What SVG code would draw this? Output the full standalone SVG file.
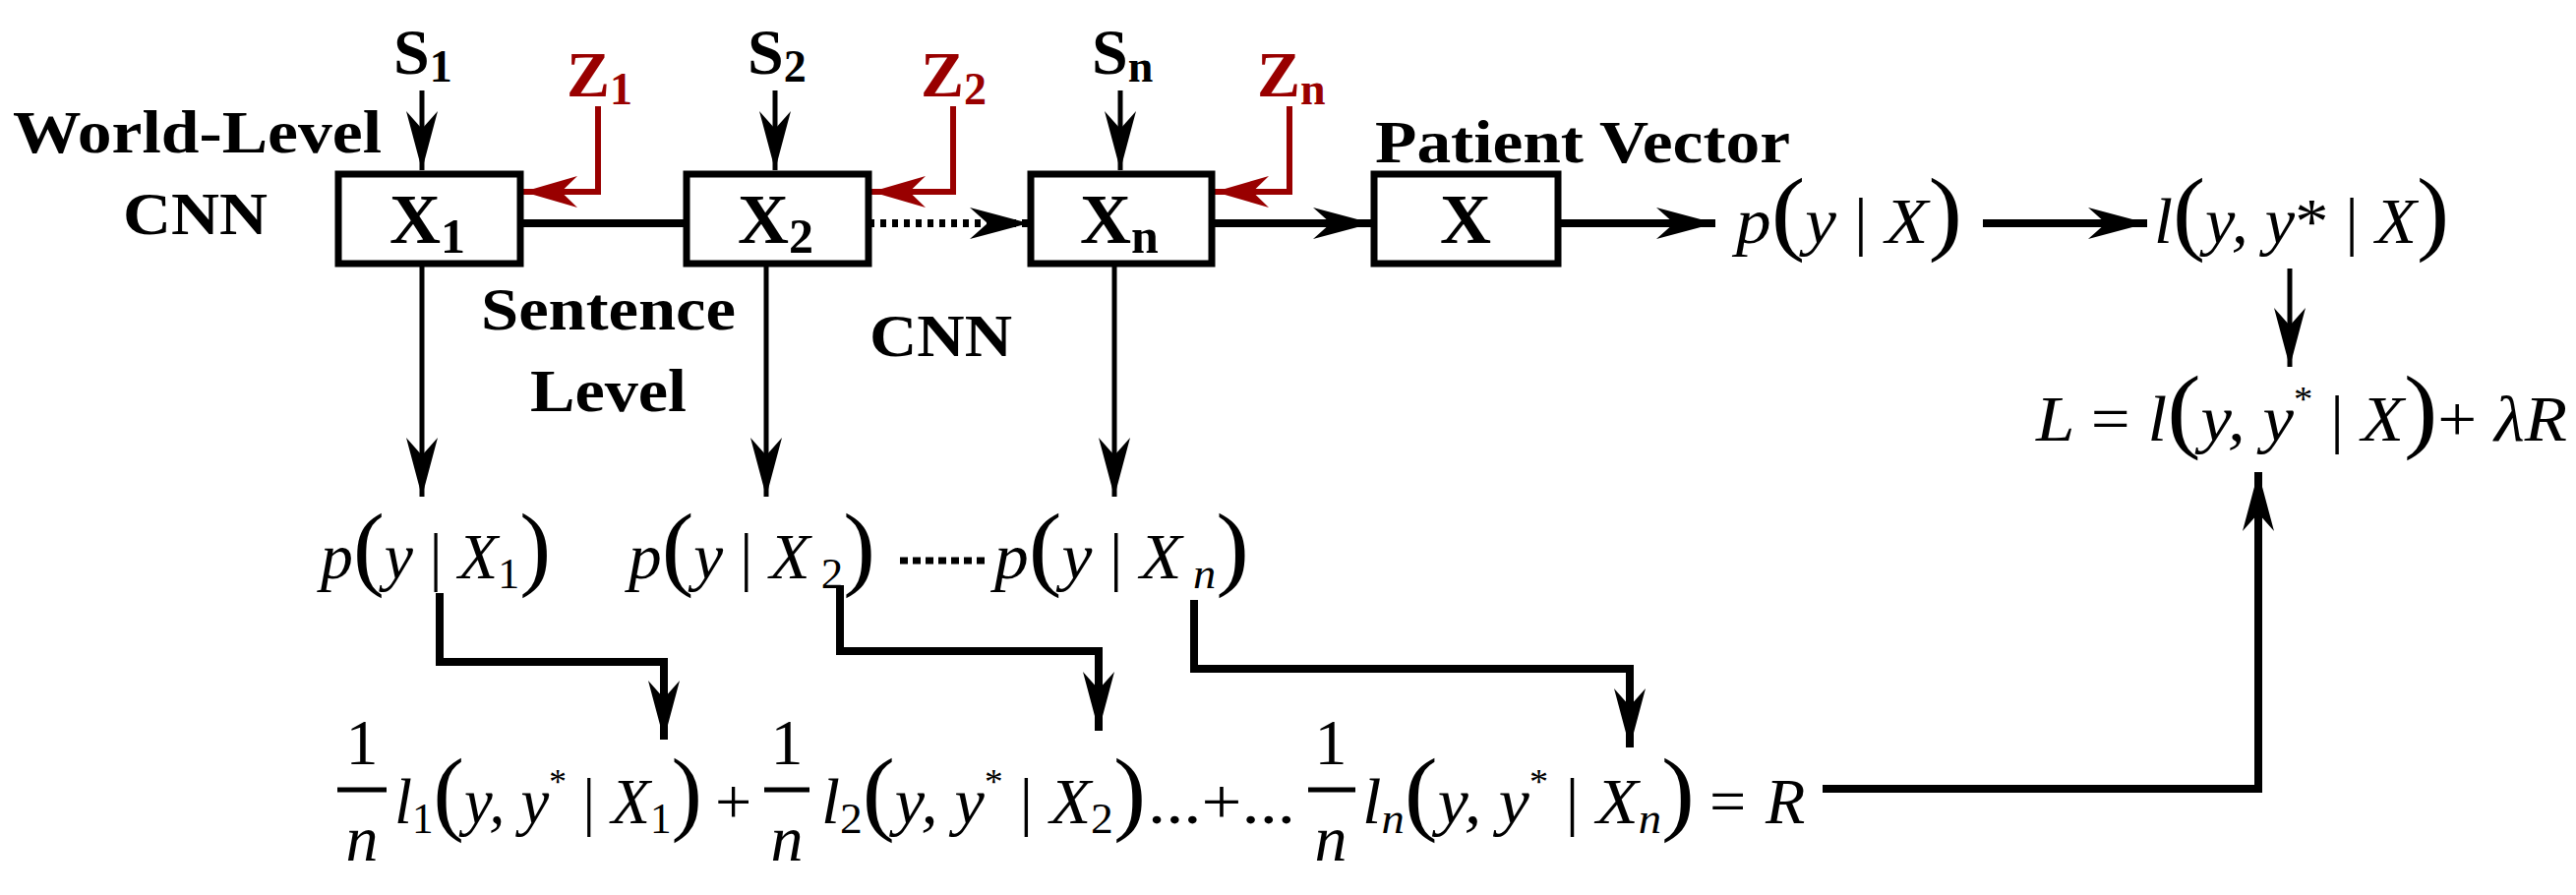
<svg xmlns="http://www.w3.org/2000/svg" width="2619" height="910" viewBox="0 0 2619 910">
<style>
.b{font-family:"Liberation Serif","Times New Roman",Tinos,serif;font-weight:bold;fill:#000}
.r{fill:#990000}
.m{font-family:"Liberation Serif","Times New Roman",Tinos,serif;font-style:italic;fill:#000}
.p{font-style:normal;font-size:96px}
.n{font-style:normal}
.box{fill:#fff;stroke:#000;stroke-width:7}
.ln{stroke:#000;fill:none;stroke-width:5}
.tk{stroke:#000;fill:none;stroke-width:8}
.rd{stroke:#990000;fill:none;stroke-width:6}
</style>
<defs>
<marker id="a" viewBox="0 0 10 10" refX="10" refY="5" markerWidth="60" markerHeight="32" preserveAspectRatio="none" markerUnits="userSpaceOnUse" orient="auto"><path d="M0,0L10,5L0,10L3,5z" fill="#000"/></marker>
<marker id="ar" viewBox="0 0 10 10" refX="10" refY="5" markerWidth="55" markerHeight="32" preserveAspectRatio="none" markerUnits="userSpaceOnUse" orient="auto"><path d="M0,0L10,5L0,10L3,5z" fill="#990000"/></marker>
</defs>
<g id="connectors">
<path class="ln" d="M429,92V173" marker-end="url(#a)"/>
<path class="ln" d="M788,92V173" marker-end="url(#a)"/>
<path class="ln" d="M1139,92V173" marker-end="url(#a)"/>
<path class="rd" d="M608,108V195H532" marker-end="url(#ar)"/>
<path class="rd" d="M969,108V195H886" marker-end="url(#ar)"/>
<path class="rd" d="M1311,108V195H1235" marker-end="url(#ar)"/>
<path class="tk" d="M529,227H698"/>
<path class="tk" d="M883,227H1046" stroke-dasharray="6,6" marker-end="url(#a)"/>
<path class="tk" d="M1232,227H1395" marker-end="url(#a)"/>
<path class="tk" d="M1584,227H1744" marker-end="url(#a)"/>
<path class="tk" d="M2016,227H2183" marker-end="url(#a)"/>
<path class="ln" d="M2328,273V373" marker-end="url(#a)"/>
<path class="ln" d="M429,271V505" marker-end="url(#a)"/>
<path class="ln" d="M779,271V505" marker-end="url(#a)"/>
<path class="ln" d="M1133,271V505" marker-end="url(#a)"/>
<path class="tk" d="M447,603V673H675V752" marker-end="url(#a)"/>
<path class="tk" d="M854,595V662H1117V743" marker-end="url(#a)"/>
<path class="tk" d="M1214,610V680H1657V760" marker-end="url(#a)"/>
<path class="tk" d="M1853,802H2296V480" marker-end="url(#a)"/>
</g>
<g id="labels" class="b">
<text x="13" y="155" font-size="62" textLength="375" lengthAdjust="spacingAndGlyphs">World-Level</text>
<text x="125" y="238" font-size="62" textLength="147" lengthAdjust="spacingAndGlyphs">CNN</text>
<text x="489" y="335" font-size="62" textLength="259" lengthAdjust="spacingAndGlyphs">Sentence</text>
<text x="539" y="418" font-size="62" textLength="159" lengthAdjust="spacingAndGlyphs">Level</text>
<text x="884" y="362" font-size="62" textLength="145" lengthAdjust="spacingAndGlyphs">CNN</text>
<text x="1398" y="165" font-size="62" textLength="422" lengthAdjust="spacingAndGlyphs">Patient Vector</text>
<text x="400" y="75" font-size="66">S<tspan font-size="46" dy="8">1</tspan></text>
<text x="760" y="75" font-size="66">S<tspan font-size="46" dy="8">2</tspan></text>
<text x="1110" y="75" font-size="66">S<tspan font-size="46" dy="8">n</tspan></text>
<text class="r" x="576" y="98" font-size="66">Z<tspan font-size="46" dy="8">1</tspan></text>
<text class="r" x="936" y="98" font-size="66">Z<tspan font-size="46" dy="8">2</tspan></text>
<text class="r" x="1278" y="98" font-size="66">Z<tspan font-size="46" dy="8">n</tspan></text>
</g>
<g id="X1"><rect class="box" x="344" y="177" width="185" height="91"/><text class="b" x="396" y="247" font-size="72">X<tspan font-size="50" dy="10">1</tspan></text></g>
<g id="X2"><rect class="box" x="698" y="177" width="185" height="91"/><text class="b" x="750" y="247" font-size="72">X<tspan font-size="50" dy="10">2</tspan></text></g>
<g id="Xn"><rect class="box" x="1048" y="177" width="184" height="91"/><text class="b" x="1098" y="247" font-size="72">X<tspan font-size="50" dy="10">n</tspan></text></g>
<g id="X"><rect class="box" x="1397" y="177" width="187" height="91"/><text class="b" x="1490" y="247" font-size="72" text-anchor="middle">X</text></g>
<g id="math" class="m" font-size="66">
<text x="1765" y="247" textLength="230" lengthAdjust="spacingAndGlyphs">p<tspan class="p">(</tspan>y <tspan class="n">|</tspan> X<tspan class="p">)</tspan></text>
<text x="2190" y="247" textLength="300" lengthAdjust="spacingAndGlyphs">l<tspan class="p">(</tspan>y, y<tspan class="n">*</tspan> <tspan class="n">|</tspan> X<tspan class="p">)</tspan></text>
<text x="2070" y="448" textLength="540" lengthAdjust="spacingAndGlyphs">L <tspan class="n">=</tspan> l<tspan class="p">(</tspan>y, y<tspan class="n" font-size="36" dy="-30">*</tspan><tspan dy="30"> </tspan><tspan class="n">|</tspan> X<tspan class="p">)</tspan><tspan class="n">+</tspan> λR</text>
<text x="326" y="588" textLength="234" lengthAdjust="spacingAndGlyphs">p<tspan class="p">(</tspan>y <tspan class="n">|</tspan> X<tspan class="n" font-size="44" dy="10">1</tspan><tspan class="p" dy="-10">)</tspan></text>
<text x="639" y="588" textLength="251" lengthAdjust="spacingAndGlyphs">p<tspan class="p">(</tspan>y <tspan class="n">|</tspan> X<tspan class="n" font-size="44" dy="10"> 2</tspan><tspan class="p" dy="-10">)</tspan></text>
<path d="M915,570H1005" stroke="#000" stroke-width="7" stroke-dasharray="8,5"/>
<text x="1011" y="588" textLength="259" lengthAdjust="spacingAndGlyphs">p<tspan class="p">(</tspan>y <tspan class="n">|</tspan> X<tspan font-size="44" dy="10"> n</tspan><tspan class="p" dy="-10">)</tspan></text>
<g class="n">
<text x="368" y="777" text-anchor="middle">1</text><text x="368" y="875" text-anchor="middle" class="m">n</text>
<text x="800" y="777" text-anchor="middle">1</text><text x="800" y="875" text-anchor="middle" class="m">n</text>
<text x="1353" y="777" text-anchor="middle">1</text><text x="1353" y="875" text-anchor="middle" class="m">n</text>
</g>
<path d="M343,803H393M777,803H823M1330,803H1378" stroke="#000" stroke-width="5"/>
<text x="401" y="837" textLength="313" lengthAdjust="spacingAndGlyphs">l<tspan class="n" font-size="44" dy="10">1</tspan><tspan class="p" dy="-10">(</tspan>y, y<tspan class="n" font-size="36" dy="-30">*</tspan><tspan dy="30"> </tspan><tspan class="n">|</tspan> X<tspan class="n" font-size="44" dy="10">1</tspan><tspan class="p" dy="-10">)</tspan></text>
<text x="727" y="837" class="n">+</text>
<text x="835" y="837" textLength="330" lengthAdjust="spacingAndGlyphs">l<tspan class="n" font-size="44" dy="10">2</tspan><tspan class="p" dy="-10">(</tspan>y, y<tspan class="n" font-size="36" dy="-30">*</tspan><tspan dy="30"> </tspan><tspan class="n">|</tspan> X<tspan class="n" font-size="44" dy="10">2</tspan><tspan class="p" dy="-10">)</tspan></text>
<text x="1167" y="837" class="n" textLength="150" lengthAdjust="spacingAndGlyphs">...+...</text>
<text x="1385" y="837" textLength="338" lengthAdjust="spacingAndGlyphs">l<tspan font-size="44" dy="10">n</tspan><tspan class="p" dy="-10">(</tspan>y, y<tspan class="n" font-size="36" dy="-30">*</tspan><tspan dy="30"> </tspan><tspan class="n">|</tspan> X<tspan font-size="44" dy="10">n</tspan><tspan class="p" dy="-10">)</tspan></text>
<text x="1738" y="837" class="n">=</text>
<text x="1795" y="837">R</text>
</g>
</svg>
